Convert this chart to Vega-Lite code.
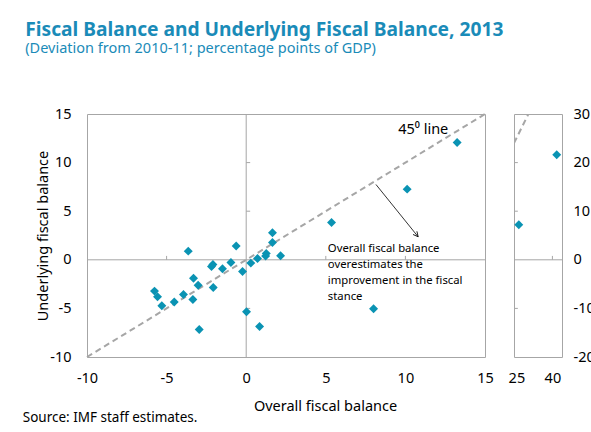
{
  "$schema": "https://vega.github.io/schema/vega-lite/v6.json",
  "padding": {"left": 22, "top": 20, "right": 5, "bottom": 5},
  "background": "white",
  "title": {
    "text": "Fiscal Balance and Underlying Fiscal Balance, 2013",
    "subtitle": "(Deviation from 2010-11; percentage points of GDP)",
    "anchor": "start",
    "frame": "bounds",
    "dx": 3,
    "font": "Noto Sans",
    "fontSize": 19.2,
    "fontWeight": "bold",
    "color": "#1A8BB8",
    "subtitleColor": "#1A8BB8",
    "subtitleFont": "Noto Sans",
    "subtitleFontSize": 14.5,
    "subtitlePadding": 2,
    "offset": 50
  },
  "datasets": {
    "main": [
      {"x": -5.76, "y": -3.22}, {"x": -5.57, "y": -3.8}, {"x": -5.3, "y": -4.73},
      {"x": -4.52, "y": -4.35}, {"x": -3.94, "y": -3.57}, {"x": -3.35, "y": -4.08},
      {"x": -3.31, "y": -1.89}, {"x": -3.02, "y": -2.61}, {"x": -3.64, "y": 0.89},
      {"x": -2.95, "y": -7.17}, {"x": -2.18, "y": -0.69}, {"x": -2.09, "y": -0.48},
      {"x": -2.07, "y": -2.85}, {"x": -1.49, "y": -0.93}, {"x": -0.96, "y": -0.27},
      {"x": -0.63, "y": 1.41}, {"x": -0.23, "y": -1.2}, {"x": 0.02, "y": -5.35},
      {"x": 0.29, "y": -0.34}, {"x": 0.71, "y": 0.14}, {"x": 0.84, "y": -6.86},
      {"x": 1.22, "y": 0.38}, {"x": 1.26, "y": 0.65}, {"x": 1.65, "y": 2.78},
      {"x": 1.65, "y": 1.78}, {"x": 2.16, "y": 0.41}, {"x": 5.36, "y": 3.84},
      {"x": 10.11, "y": 7.27}, {"x": 13.25, "y": 12.07}, {"x": 8.0, "y": -5.04}
    ],
    "side": [{"x": 26.0, "y": 7.2}, {"x": 41.8, "y": 21.6}],
    "diagMain": [{"x": -10, "y": -10}, {"x": 15, "y": 15}],
    "diagSide": [{"x": 24, "y": 24}, {"x": 32, "y": 32}],
    "one": [{"z": 0}],
    "tickX": [{"v": -5}, {"v": 5}, {"v": 10}],
    "tickY": [{"v": -5}, {"v": 5}, {"v": 10}],
    "tickSideY": [{"v": -10}, {"v": 10}, {"v": 20}],
    "tickSideX": [{"v": 40}],
    "arrow": [{"x": 8.15, "y": 7.75, "x2": 10.8, "y2": 2.37}],
    "label45": [{"x": 9.55, "y": 13.4, "label": "45⁰ line"}],
    "note": [{"x": 5.13, "y": 1.06, "label": ["Overall fiscal balance", "overestimates the", "improvement in the fiscal", "stance"]}]
  },
  "hconcat": [
    {
      "width": 398,
      "height": 243,
      "title": {
        "text": "Source: IMF staff estimates.",
        "orient": "bottom",
        "anchor": "start",
        "frame": "bounds",
        "dx": -13,
        "offset": -2,
        "font": "Noto Sans",
        "fontSize": 13.5,
        "fontWeight": "normal",
        "color": "#000000"
      },
      "layer": [
        {
          "data": {"name": "diagMain"},
          "mark": {"type": "line", "strokeDash": [6, 4], "color": "#A6A6A6", "strokeWidth": 2},
          "encoding": {
            "x": {"field": "x", "type": "quantitative", "scale": {"domain": [-10, 15], "nice": false, "zero": false},
              "axis": {"values": [-10, -5, 0, 5, 10, 15], "labelPadding": 14, "title": "Overall fiscal balance", "titleX": 238, "titleY": 53, "titleBaseline": "alphabetic", "titleAnchor": "middle"}},
            "y": {"field": "y", "type": "quantitative", "scale": {"domain": [-10, 15], "nice": false, "zero": false},
              "axis": {"values": [-10, -5, 0, 5, 10, 15], "labelPadding": 16, "title": "Underlying fiscal balance", "titlePadding": -1}}
          }
        },
        {
          "data": {"name": "one"},
          "mark": {"type": "rule", "color": "#A6A6A6", "strokeWidth": 1},
          "encoding": {"y": {"datum": 0}}
        },
        {
          "data": {"name": "one"},
          "mark": {"type": "rule", "color": "#A6A6A6", "strokeWidth": 1},
          "encoding": {"x": {"datum": 0}}
        },
        {
          "data": {"name": "tickX"},
          "mark": {"type": "rule", "color": "#A6A6A6", "strokeWidth": 1},
          "encoding": {"x": {"field": "v", "type": "quantitative"}, "y": {"datum": 0}, "y2": {"datum": 0.4}}
        },
        {
          "data": {"name": "tickY"},
          "mark": {"type": "rule", "color": "#A6A6A6", "strokeWidth": 1},
          "encoding": {"y": {"field": "v", "type": "quantitative"}, "x": {"datum": 0}, "x2": {"datum": 0.25}}
        },
        {
          "data": {"name": "main"},
          "mark": {"type": "point", "shape": "diamond", "filled": true, "size": 80, "color": "#0A93B3", "opacity": 1},
          "encoding": {"x": {"field": "x", "type": "quantitative"}, "y": {"field": "y", "type": "quantitative"}}
        },
        {
          "data": {"name": "arrow"},
          "mark": {"type": "rule", "color": "#000000", "strokeWidth": 0.8},
          "encoding": {"x": {"field": "x", "type": "quantitative"}, "y": {"field": "y", "type": "quantitative"}, "x2": {"field": "x2"}, "y2": {"field": "y2"}}
        },
        {
          "data": {"name": "arrow"},
          "mark": {"type": "point", "shape": "M-0.5,-1L0,0L0.5,-1", "filled": false, "size": 100, "stroke": "#000000", "strokeWidth": 0.8, "angle": 320.8, "opacity": 1},
          "encoding": {"x": {"field": "x2", "type": "quantitative"}, "y": {"field": "y2", "type": "quantitative"}}
        },
        {
          "data": {"name": "label45"},
          "mark": {"type": "text", "align": "left", "baseline": "middle", "font": "Noto Sans", "fontSize": 14.5, "color": "#000000"},
          "encoding": {"x": {"field": "x", "type": "quantitative"}, "y": {"field": "y", "type": "quantitative"}, "text": {"field": "label"}}
        },
        {
          "data": {"name": "note"},
          "mark": {"type": "text", "align": "left", "baseline": "middle", "font": "Noto Sans", "fontSize": 11.3, "lineHeight": 16, "color": "#000000"},
          "encoding": {"x": {"field": "x", "type": "quantitative"}, "y": {"field": "y", "type": "quantitative"}, "text": {"field": "label"}}
        }
      ]
    },
    {
      "width": 48,
      "height": 243,
      "layer": [
        {
          "data": {"name": "diagSide"},
          "mark": {"type": "line", "strokeDash": [6, 4], "color": "#A6A6A6", "strokeWidth": 2, "clip": true},
          "encoding": {
            "x": {"field": "x", "type": "quantitative", "scale": {"domain": [24, 44], "nice": false, "zero": false},
              "axis": {"values": [25, 40], "title": null, "labelPadding": 14}},
            "y": {"field": "y", "type": "quantitative", "scale": {"domain": [-20, 30], "nice": false, "zero": false},
              "axis": {"orient": "right", "values": [-20, -10, 0, 10, 20, 30], "title": null, "labelPadding": 11}}
          }
        },
        {
          "data": {"name": "one"},
          "mark": {"type": "rule", "color": "#A6A6A6", "strokeWidth": 1},
          "encoding": {"y": {"datum": 0}}
        },
        {
          "data": {"name": "tickSideY"},
          "mark": {"type": "rule", "color": "#A6A6A6", "strokeWidth": 1},
          "encoding": {"y": {"field": "v", "type": "quantitative"}, "x": {"datum": 24}, "x2": {"datum": 25.6}}
        },
        {
          "data": {"name": "tickSideX"},
          "mark": {"type": "rule", "color": "#A6A6A6", "strokeWidth": 1},
          "encoding": {"x": {"field": "v", "type": "quantitative"}, "y": {"datum": 0}, "y2": {"datum": 0.8}}
        },
        {
          "data": {"name": "side"},
          "mark": {"type": "point", "shape": "diamond", "filled": true, "size": 80, "color": "#0A93B3", "opacity": 1},
          "encoding": {"x": {"field": "x", "type": "quantitative"}, "y": {"field": "y", "type": "quantitative"}}
        }
      ]
    }
  ],
  "spacing": 13,
  "config": {
    "view": {"stroke": "#A6A6A6", "strokeWidth": 1},
    "axis": {
      "labelFont": "Noto Sans",
      "labelFontSize": 14.5,
      "labelColor": "#000000",
      "labelFlush": false,
      "labelExpr": "replace(datum.label, '−', '-')",
      "titleFont": "Noto Sans",
      "titleFontSize": 14.5,
      "titleFontWeight": "normal",
      "titleColor": "#000000",
      "grid": false,
      "ticks": false,
      "domain": false,
      "labelPadding": 14
    }
  }
}
